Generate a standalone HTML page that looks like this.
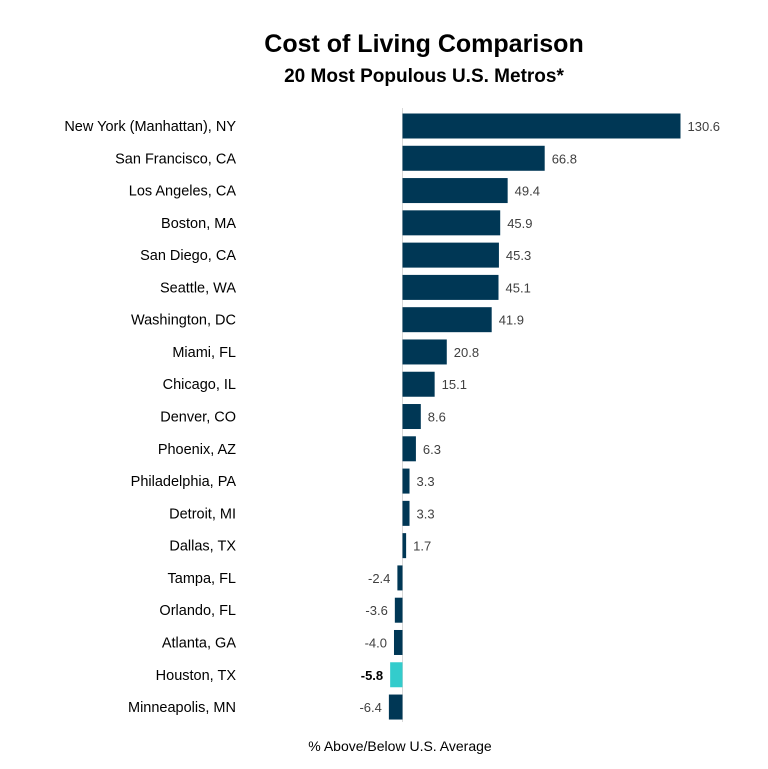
<!DOCTYPE html>
<html><head><meta charset="utf-8"><style>
body{margin:0;background:#fff;font-family:"Liberation Sans",sans-serif}
svg{display:block}
</style></head><body>
<svg id="chart" width="768" height="769">
<text x="424" y="52" text-anchor="middle" font-size="25" font-weight="bold" fill="#000">Cost of Living Comparison</text>
<text x="424" y="82" text-anchor="middle" font-size="19" font-weight="bold" fill="#000">20 Most Populous U.S. Metros*</text>
<line x1="402.5" y1="108" x2="402.5" y2="722" stroke="#d9d9d9" stroke-width="1"/>
<g id="bars"></g>
<text x="400" y="751" text-anchor="middle" font-size="14" fill="#000">% Above/Below U.S. Average</text>
</svg>
<script>
const categories=["New York (Manhattan), NY","San Francisco, CA","Los Angeles, CA","Boston, MA","San Diego, CA","Seattle, WA","Washington, DC","Miami, FL","Chicago, IL","Denver, CO","Phoenix, AZ","Philadelphia, PA","Detroit, MI","Dallas, TX","Tampa, FL","Orlando, FL","Atlanta, GA","Houston, TX","Minneapolis, MN"];
const values=[130.6,66.8,49.4,45.9,45.3,45.1,41.9,20.8,15.1,8.6,6.3,3.3,3.3,1.7,-2.4,-3.6,-4.0,-5.8,-6.4];
const highlight="Houston, TX";
const x0=402.5, pxPerUnit=278/130.6, top0=126, band=32.28, barH=25;
const xs=v=>x0+v*pxPerUnit;
const yc=i=>top0+i*band;
const g=document.getElementById('bars');
const NS="http://www.w3.org/2000/svg";
categories.forEach((c,i)=>{
  const v=values[i];
  const hl=c===highlight;
  const r=document.createElementNS(NS,'rect');
  const a=xs(0),b=xs(v);
  r.setAttribute('x',Math.min(a,b));r.setAttribute('width',Math.abs(b-a));
  r.setAttribute('y',yc(i)-barH/2);r.setAttribute('height',barH);
  r.setAttribute('fill',hl?'#33cccc':'#003755');
  
  
  g.appendChild(r);
  const l=document.createElementNS(NS,'text');
  l.setAttribute('x',236);l.setAttribute('y',yc(i)+5);l.setAttribute('text-anchor','end');
  l.setAttribute('font-size','14.5');l.setAttribute('fill','#000');
  l.textContent=c;
  
  
  g.appendChild(l);
  const t=document.createElementNS(NS,'text');
  t.setAttribute('x',v>=0?b+7:b-7);t.setAttribute('y',yc(i)+5);
  t.setAttribute('text-anchor',v>=0?'start':'end');
  t.setAttribute('font-size','13');t.setAttribute('fill',hl?'#000':'#404040');
  if(hl)t.setAttribute('font-weight','bold');
  t.textContent=v.toFixed(1);
  
  
  g.appendChild(t);
});
</script>
</body></html>
